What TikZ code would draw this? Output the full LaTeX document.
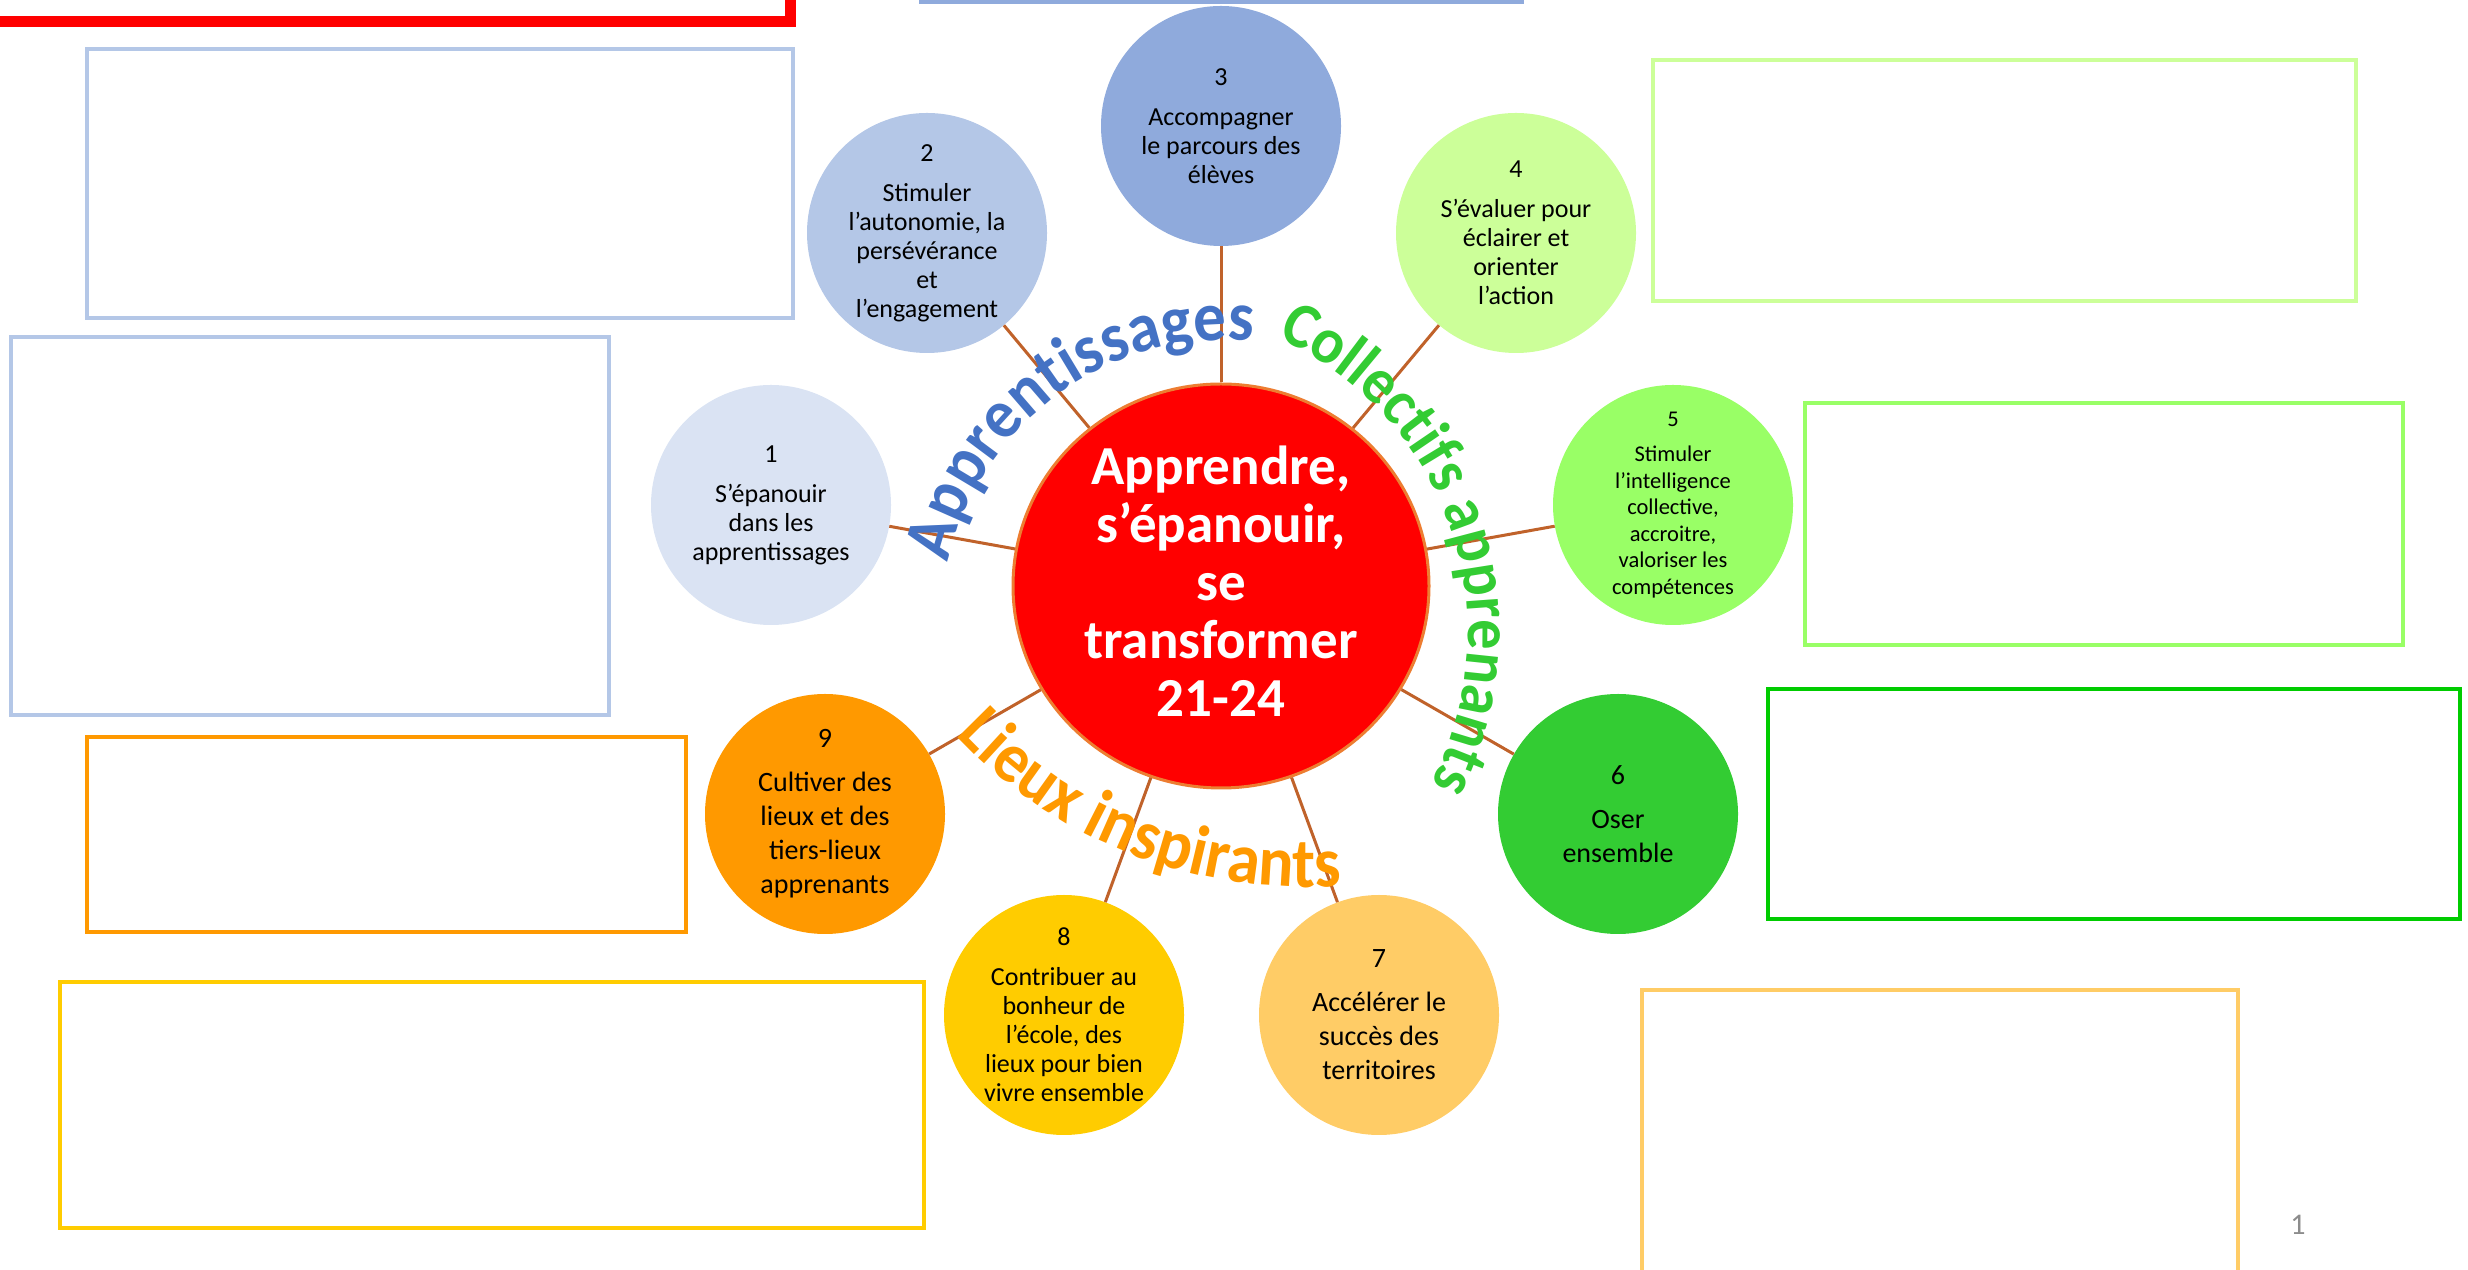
\documentclass[tikz,border=0pt]{standalone}
\usepackage{fontspec}
\setmainfont{Carlito}
\newfontfamily\arcfont[FakeStretch=0.93]{Carlito}
\usetikzlibrary{shapes.geometric,decorations.text}
\definecolor{cone}{HTML}{DAE3F3}
\definecolor{ctwo}{HTML}{B4C7E7}
\definecolor{cthree}{HTML}{8FAADC}
\definecolor{cfour}{HTML}{CCFF99}
\definecolor{cfive}{HTML}{99FF66}
\definecolor{csix}{HTML}{33CC33}
\definecolor{cseven}{HTML}{FFCC66}
\definecolor{ceight}{HTML}{FFCC00}
\definecolor{cnine}{HTML}{FF9900}
\definecolor{redmain}{HTML}{FF0000}
\definecolor{redrim}{HTML}{ED7D31}
\definecolor{connc}{HTML}{C0622A}
\definecolor{apblue}{HTML}{4472C4}
\definecolor{colgreen}{HTML}{33CC33}
\definecolor{lieuorange}{HTML}{FF9900}
\definecolor{boxg}{HTML}{00CC00}
\definecolor{pagegrey}{HTML}{8C8C8C}
\begin{document}
\begin{tikzpicture}[x=1pt,y=1pt,
  bub/.style={circle, minimum size=240pt, inner sep=0pt, draw=none},
  txt/.style={align=center, text=black, inner sep=0pt, font=\fontsize{26}{29}\selectfont},
  txtsmall/.style={txt, font=\fontsize{22.5}{26.5}\selectfont},
  txtbig/.style={txt, font=\fontsize{28}{34}\selectfont},
  conn/.style={draw=connc, line width=3pt},
  frame/.style={line width=3.5pt, fill=none},
]
\useasboundingbox (0,0) rectangle (2468,1269);
\clip (0,0) rectangle (2468,1269);

% frames
\draw[redmain, line width=11pt] (-40,1247) rectangle (790,1320);
\draw[frame, cthree] (921,1267) rectangle (1522,1320);
\draw[frame, ctwo] (87,951) rectangle (793,1220);
\draw[frame, ctwo] (11,554) rectangle (609,932);
\draw[frame, cnine] (87,337) rectangle (686,532);
\draw[frame, ceight] (60,41) rectangle (924,287);
\draw[frame, cfour] (1653,968) rectangle (2356,1209);
\draw[frame, cfive] (1805,624) rectangle (2403,866);
\draw[frame, boxg] (1768,350) rectangle (2460,580);
\draw[frame, cseven] (1642,-20) rectangle (2238,279);

% central node
\node[ellipse, minimum width=416pt, minimum height=404pt, inner sep=0pt,
      fill=redmain, draw=redrim, line width=3pt] (red) at (1221,683) {};
\node[align=center, text=white, inner sep=0pt,
      font=\fontsize{55}{58}\selectfont\bfseries] (redtxt) at (1221,688) {Apprendre,\\s’épanouir,\\se\\transformer\\21-24};

% satellite circles
\node[bub, fill=cone]   (c1) at (771,764) {};
\node[bub, fill=ctwo]   (c2) at (927,1036) {};
\node[bub, fill=cthree] (c3) at (1221,1143) {};
\node[bub, fill=cfour]  (c4) at (1516,1036) {};
\node[bub, fill=cfive]  (c5) at (1673,764) {};
\node[bub, fill=csix]   (c6) at (1618,455) {};
\node[bub, fill=cseven] (c7) at (1379,254) {};
\node[bub, fill=ceight] (c8) at (1064,254) {};
\node[bub, fill=cnine]  (c9) at (825,455) {};

\node[txt] (t1) at (c1) {1\\[11pt]S’épanouir\\dans les\\apprentissages};
\node[txt] (t2) at (c2) {2\\[11pt]Stimuler\\l’autonomie, la\\persévérance\\et\\l’engagement};
\node[txt] (t3) at (c3) {3\\[11pt]Accompagner\\le parcours des\\élèves};
\node[txt] (t4) at (c4) {4\\[11pt]S’évaluer pour\\éclairer et\\orienter\\l’action};
\node[txtsmall] (t5) at (c5) {5\\[9pt]Stimuler\\l’intelligence\\collective,\\accroitre,\\valoriser les\\compétences};
\node[txtbig] (t6) at (c6) {6\\[10pt]Oser\\ensemble};
\node[txtbig] (t7) at (c7) {7\\[10pt]Accélérer le\\succès des\\territoires};
\node[txt] (t8) at (c8) {8\\[11pt]Contribuer au\\bonheur de\\l’école, des\\lieux pour bien\\vivre ensemble};
\node[txtbig] (t9) at (c9) {9\\[10pt]Cultiver des\\lieux et des\\tiers-lieux\\apprenants};

% connectors
\foreach \k in {1,...,9} {\draw[conn] (red) -- (c\k);}

% curved labels
\path[decorate, shift={(1225,646)}, decoration={text along path, text align=center,
  text={|\arcfont\fontsize{70}{70}\selectfont\bfseries\color{apblue}|Apprentissages}}]
  (186:283) arc[start angle=186, end angle=66, radius=283];
\path[decorate, shift={(1144,636)}, decoration={text along path, text align=center,
  text={|\arcfont\fontsize{65}{65}\selectfont\bfseries\color{colgreen}|Collectifs apprenants}}]
  (79:324) arc[start angle=79, end angle=-41, radius=324];
\path[decorate, shift={(1305,860)}, decoration={text along path, text align=center,
  text={|\arcfont\fontsize{71}{71}\selectfont\bfseries\color{lieuorange}|Lieux inspirants}}]
  (208.75:478) arc[start angle=208.75, end angle=288.75, radius=478];

% page number
\node[text=pagegrey, font=\fontsize{30}{30}\selectfont, inner sep=0pt] (pnum) at (2298,44) {1};
\end{tikzpicture}
\end{document}
